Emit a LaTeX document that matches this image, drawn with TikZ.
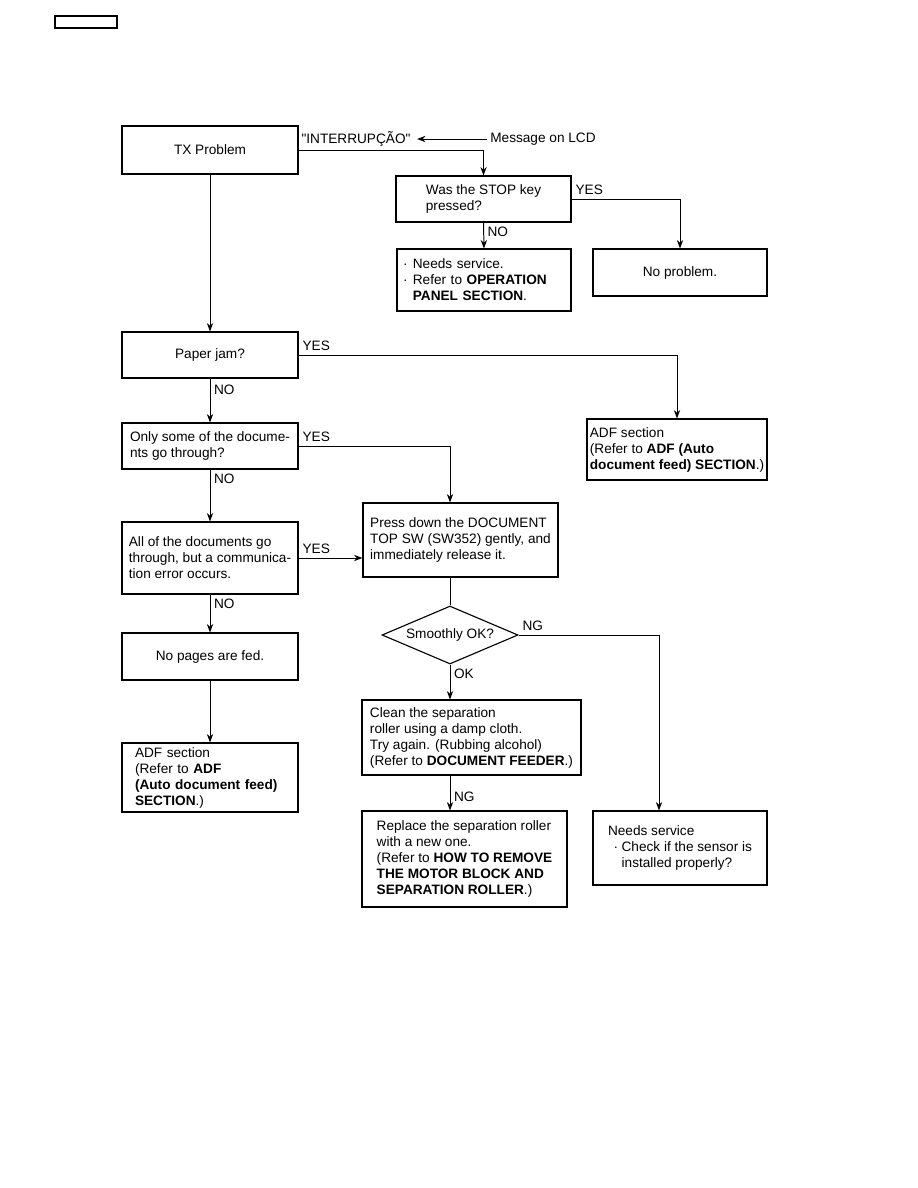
\documentclass[tikz,border=0pt]{standalone}
\usepackage{fontspec}
\setmainfont{Liberation Sans}[Ligatures=TeXOff]
\usetikzlibrary{arrows.meta,shapes.geometric}
\newcommand{\itembul}[1][7pt]{\makebox[#1][l]{·}}
\tikzset{
  box/.style={draw, line width=0.8pt, align=left, inner sep=2pt},
  cbox/.style={box, align=center},
  link/.style={line width=0.7pt},
  arrow/.style={link, -{Stealth[length=6pt,width=4.5pt]}},
  tag/.style={inner sep=2.5pt}
}
\begin{document}
\begin{tikzpicture}[font=\fontsize{9.7}{11.4}\selectfont]
  \useasboundingbox (0,0) rectangle (22.95,-29.7);
  % page header box
  \draw[line width=1pt] (1.375,-0.4) rectangle (2.925,-0.7);
  % left column
  \node[cbox, minimum width=4.4cm, minimum height=1.2cm] (tx) at (5.25,-3.75) {TX Problem};
  \node[cbox, minimum width=4.4cm, minimum height=1.15cm] (jam) at (5.25,-8.875) {Paper jam?};
  \node[box, minimum width=4.4cm, minimum height=1.15cm] (some) at (5.25,-11.15)
        {Only some of the docume-\\nts go through?};
  \node[box, minimum width=4.4cm, minimum height=1.8cm] (all) at (5.25,-13.95)
        {All of the documents go\\through, but a communica-\\tion error occurs.};
  \node[cbox, minimum width=4.4cm, minimum height=1.175cm] (nopages) at (5.25,-16.4125) {No pages are fed.};
  \node[box, text width=3.75cm, inner xsep=0.325cm, minimum height=1.725cm] (adf2) at (5.25,-19.4375)
        {ADF section\\(Refer to \textbf{ADF}\\\textbf{(Auto document feed)}\\\textbf{SECTION}.)};
  % message on LCD
  \node[tag] (intr) at (8.9,-3.475) {"INTERRUPÇÃO"};
  \node[tag] (msg) at (13.575,-3.475) {Message on LCD};
  % STOP key branch
  \node[box, minimum width=4.375cm, minimum height=1.15cm] (stop) at (12.0875,-4.975)
        {Was the STOP key\\pressed?};
  \node[box, text width=4.05cm, inner xsep=0.15cm, minimum height=1.55cm] (svc1) at (12.1,-7.0)
        {\itembul Needs service.\\\itembul Refer to \textbf{OPERATION}\\\hphantom{\itembul}\textbf{PANEL SECTION}.};
  \node[cbox, minimum width=4.35cm, minimum height=1.175cm] (noprob) at (17.0,-6.8125) {No problem.};
  \node[box, minimum width=4.5cm, minimum height=1.525cm] (adf1) at (16.925,-11.2375)
        {ADF section\\(Refer to \textbf{ADF (Auto}\\\textbf{document feed) SECTION}.)};
  % document top switch
  \node[box, minimum width=4.875cm, minimum height=1.85cm] (press) at (11.5125,-13.5)
        {Press down the DOCUMENT\\TOP SW (SW352) gently, and\\immediately release it.};
  \node[draw, diamond, line width=0.8pt, aspect=2.3, inner sep=0pt,
        minimum width=3.4cm, minimum height=1.45cm] (dia) at (11.25,-15.875) {Smoothly OK?};
  \node[box, minimum width=5.475cm, minimum height=1.875cm] (clean) at (11.7875,-18.4375)
        {Clean the separation\\roller using a damp cloth.\\Try again. (Rubbing alcohol)\\(Refer to \textbf{DOCUMENT FEEDER}.)};
  \node[box, minimum width=5.125cm, minimum height=2.4cm] (replace) at (11.6125,-21.475)
        {Replace the separation roller\\with a new one.\\(Refer to \textbf{HOW TO REMOVE}\\\textbf{THE MOTOR BLOCK AND}\\\textbf{SEPARATION ROLLER}.)};
  \node[box, minimum width=4.35cm, minimum height=1.85cm] (svc2) at (17.0,-21.2)
        {Needs service\\\hspace*{4pt}\itembul[5.7pt]Check if the sensor is\\\hspace*{4pt}\hphantom{\itembul[5.7pt]}installed properly?};
  % connectors
  \draw[arrow, shorten >=2pt] (msg.west) -- (intr.east);
  \draw[arrow] (tx.east) -| (stop.north);
  \draw[arrow] (stop.east) -| (noprob.north) node[pos=0, tag, above right] {YES};
  \draw[arrow] (stop.south) -- (svc1.north) node[pos=0, tag, below right] {NO};
  \draw[arrow] (tx.south) -- (jam.north);
  \draw[arrow] (jam.east) -| (adf1.north) node[pos=0, tag, above right] {YES};
  \draw[arrow] (jam.south) -- (some.north) node[pos=0.25, tag, right] {NO};
  \draw[arrow] (some.east) -| (dia |- press.north) node[pos=0, tag, above right] {YES};
  \draw[arrow] (some.south) -- (all.north) node[pos=0, tag, below right] {NO};
  \draw[arrow] (all.east) -- (all.east -| press.west) node[pos=0, tag, above right] {YES};
  \draw[arrow] (all.south) -- (nopages.north) node[pos=0, tag, below right] {NO};
  \draw[arrow] (nopages.south) -- (adf2.north);
  \draw[link] (dia |- press.south) -- (dia.north);
  \draw[arrow] (dia.east) -| ([xshift=-0.525cm]svc2.north) node[pos=0, tag, above right] {NG};
  \draw[arrow] (dia.south) -- (dia |- clean.north) node[pos=0, tag, below right] {OK};
  \draw[arrow] (dia |- clean.south) -- (dia |- replace.north) node[pos=0.6, tag, right] {NG};
\end{tikzpicture}
\end{document}
